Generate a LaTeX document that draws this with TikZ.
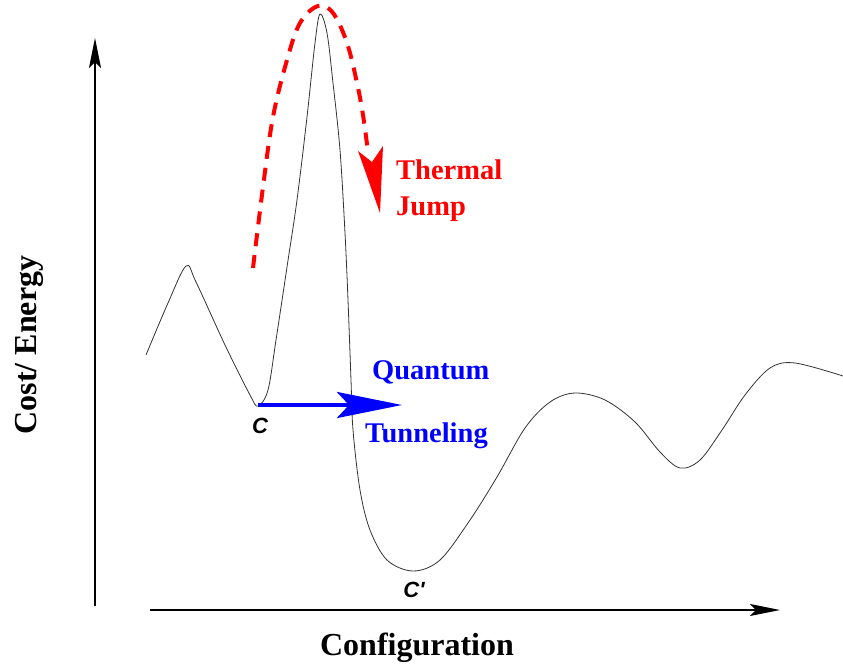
\documentclass[tikz,border=0pt]{standalone}
\usepackage{fontspec}
\setmainfont{Liberation Serif}
\newfontfamily\estfont{Liberation Sans}
\usetikzlibrary{arrows.meta}
\tikzset{
  eje/.style={line width=1.4pt, -{Stealth[length=30pt, width=12pt, inset=6pt]}},
  rotulo/.style={inner sep=0pt, font=\fontsize{32}{36}\selectfont\bfseries},
  etiq/.style={inner sep=0pt, font=\fontsize{28.5}{36}\selectfont\bfseries, align=left},
  estado/.style={inner sep=0pt, font=\estfont\fontsize{22}{24}\selectfont\bfseries\itshape},
}
\begin{document}
\begin{tikzpicture}[x=1pt, y=-1pt]
    \useasboundingbox (0,0) rectangle (843,666);
    % Ejes
    \draw[eje] (95,606) -- (95,38);
    \draw[eje] (150,610) -- (780,610);
    \node[rotulo, anchor=base] (conf) at (417,655) {Configuration};
    \node[rotulo, rotate=90, anchor=base] (costo) at (36,345) {Cost/ Energy};
    % Paisaje de energia
    \draw[line width=0.8pt, black!80] plot[smooth, tension=0.55] coordinates {
      (146,355) (168,303) (186,266) (196,282) (225,345) (250,395) (258,406)
      (268,390) (276,340) (287,267) (297,200) (307,117) (315,43) (320,14)
      (327,33) (333,83) (340,150) (345,233) (348,300) (351,380) (353,430)
      (360,490) (370,530) (387,560) (413,571) (440,560) (470,520) (497,477)
      (525,428) (550,402) (575,393) (605,400) (635,422) (660,452) (680,468)
      (700,460) (722,430) (745,395) (770,368) (795,363) (843,376)};
    % Salto termico
    \draw[red, line width=4pt, dash pattern=on 13pt off 9pt] plot[smooth, tension=0.6] coordinates {
      (253,268) (263,187) (273,117) (287,60) (300,23) (318,6) (333,13)
      (347,43) (357,83) (363,115) (368,152)};
    \fill[red] (358,151) -- (372,162) -- (383,146) -- (380,213) -- cycle;
    \node[etiq, red, anchor=base west] (termico) at (396,215) {Thermal\\Jump};
    % Tunel cuantico
    \coordinate (cini) at (258,405);
    \coordinate (cfin) at (402,405);
    \draw[blue, line width=4pt, -{Stealth[length=65pt, width=26pt, inset=12pt]}] (cini) -- (cfin);
    \node[etiq, blue, anchor=base west] (cuant) at (372,379) {Quantum};
    \node[etiq, blue, anchor=base west] (tunel) at (365,442) {Tunneling};
    % Estados
    \node[estado] (c) at (260,426) {C};
    \node[estado] (cp) at (414,590) {C'};
\end{tikzpicture}
\end{document}
